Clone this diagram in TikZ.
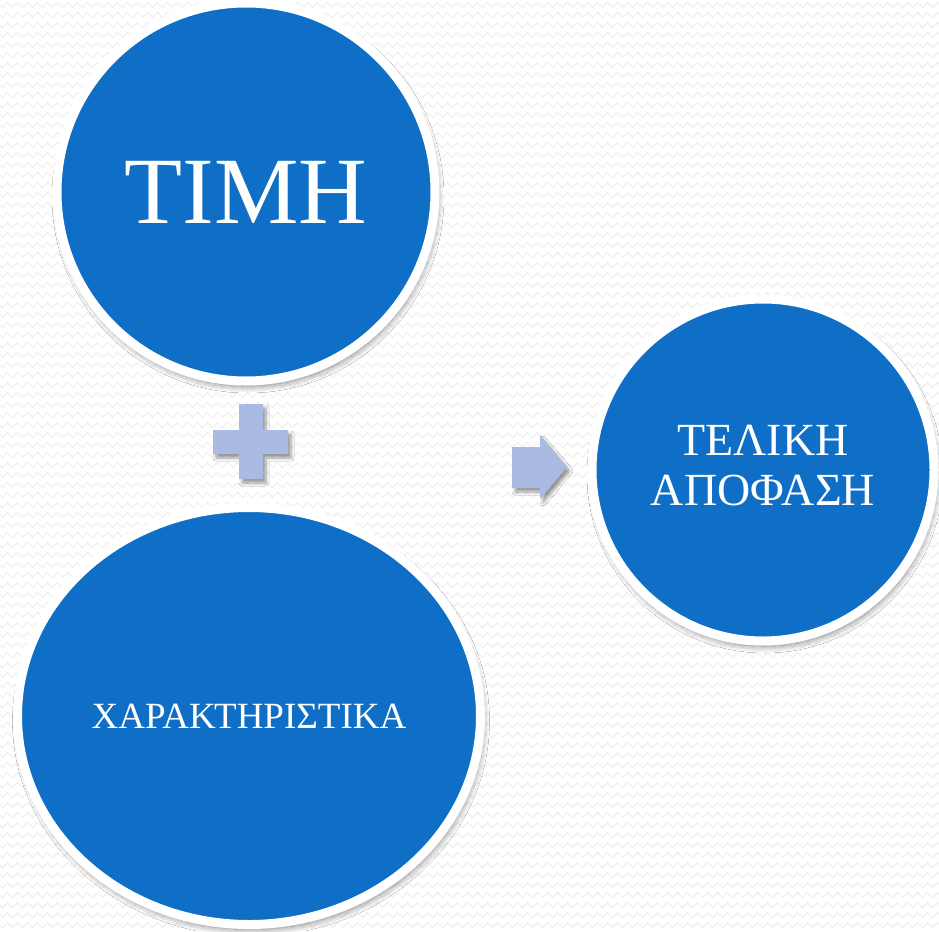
\documentclass[tikz,border=0pt]{standalone}
\usepackage{fontspec}
\setmainfont{Liberation Serif}
\usetikzlibrary{shapes.geometric,shadows.blur,decorations.pathmorphing}
\definecolor{bblue}{HTML}{0F6FC6}
\definecolor{lblue}{HTML}{A9BBE3}
\definecolor{zig}{HTML}{F1F1F1}
\tikzset{
  bubble/.style={fill=bblue, draw=white, line width=9pt, text=white, inner sep=0pt,
    blur shadow={shadow xshift=2pt, shadow yshift=-5pt, shadow blur steps=10, shadow blur radius=7pt, shadow opacity=50}},
  sym/.style={fill=lblue, draw=none,
    blur shadow={shadow xshift=3pt, shadow yshift=-4pt, shadow blur steps=6, shadow blur radius=3pt, shadow opacity=40}},
  zz/.style={draw=zig, line width=1.4pt, decorate, decoration={zigzag, segment length=10pt, amplitude=2.5pt}}
}
\begin{document}
\begin{tikzpicture}[x=1pt,y=-1pt]
\useasboundingbox (0,0) rectangle (939,931);
\fill[white] (0,0) rectangle (939,931);
\foreach \r in {0,10,...,930} { \draw[zz] (-5,\r+5) -- (945,\r+5); }
\node[bubble, circle, minimum size=378pt, font=\fontsize{95}{100}\selectfont] (timh) at (246,192) {ΤΙΜΗ};
\node[bubble, ellipse, minimum width=463pt, minimum height=417pt, font=\fontsize{37}{40}\selectfont] (char) at (249,716) {ΧΑΡΑΚΤΗΡΙΣΤΙΚΑ};
\node[bubble, circle, minimum size=342pt, align=center, font=\fontsize{46}{50}\selectfont] (final) at (763,470) {ΤΕΛΙΚΗ\\ΑΠΟΦΑΣΗ\\[-40pt]};
% plus sign
\path[sym] (239,404) -- (263,404) -- (263,430) -- (288,430) -- (288,454) -- (263,454) -- (263,479) -- (239,479) -- (239,454) -- (213,454) -- (213,430) -- (239,430) -- cycle;
% arrow
\path[sym] (512,447) -- (540,447) -- (540,435) -- (567,467) -- (540,499) -- (540,488) -- (512,488) -- cycle;
\end{tikzpicture}
\end{document}
